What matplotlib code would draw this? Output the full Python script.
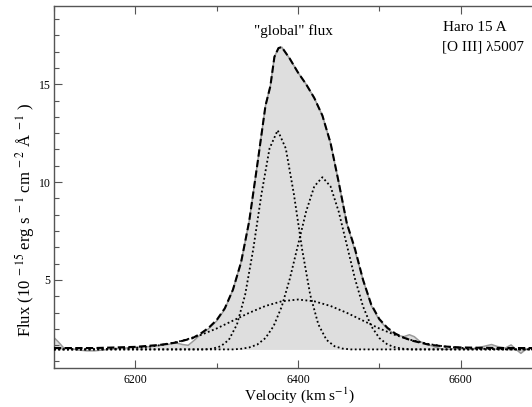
import matplotlib
matplotlib.use('Agg')
import matplotlib.pyplot as plt
from matplotlib.ticker import MultipleLocator, AutoMinorLocator

plt.rcParams['font.family'] = ['Liberation Serif', 'DejaVu Serif']
plt.rcParams['mathtext.fontset'] = 'stix'

# observed spectrum (grey line + filled area)
obs_v = [6100, 6105, 6112, 6120, 6130, 6140, 6150, 6160, 6170, 6180, 6200, 6220,
         6240, 6250, 6258, 6265, 6272, 6280, 6290, 6300, 6310, 6320, 6330, 6340,
         6350, 6360, 6366, 6371, 6376, 6380, 6390, 6400, 6410, 6420, 6430, 6440,
         6450, 6460, 6470, 6480, 6490, 6500, 6510, 6520, 6530, 6537, 6543, 6550,
         6560, 6570, 6580, 6590, 6600, 6610, 6620, 6630, 6638, 6645, 6655, 6662,
         6668, 6674, 6680, 6690, 6700]
obs_f = [2.05, 1.85, 1.52, 1.50, 1.42, 1.38, 1.38, 1.42, 1.47, 1.50, 1.55, 1.60,
         1.70, 1.78, 1.70, 1.66, 1.90, 2.20, 2.50, 2.90, 3.50, 4.50, 5.90, 8.00,
         10.9, 13.9, 14.9, 16.4, 16.85, 16.9, 16.3, 15.6, 15.0, 14.3, 13.4, 12.0,
         10.0, 7.9, 6.5, 5.0, 3.7, 2.95, 2.50, 2.20, 2.10, 2.20, 2.10, 1.85,
         1.70, 1.55, 1.45, 1.48, 1.50, 1.45, 1.52, 1.62, 1.70, 1.60, 1.52, 1.68,
         1.45, 1.25, 1.45, 1.55, 1.50]

# total fit (dashed)
tot_v = [6100, 6150, 6200, 6230, 6250, 6270, 6280, 6290, 6300, 6310, 6320, 6330,
         6340, 6350, 6360, 6366, 6371, 6376, 6380, 6390, 6400, 6410, 6420, 6430,
         6440, 6450, 6460, 6470, 6480, 6490, 6500, 6510, 6520, 6530, 6540, 6560,
         6580, 6600, 6650, 6700]
tot_f = [1.52, 1.52, 1.58, 1.68, 1.80, 2.02, 2.25, 2.55, 2.95, 3.55, 4.50, 5.90,
         8.00, 10.9, 13.9, 14.9, 16.4, 16.85, 16.9, 16.3, 15.6, 15.0, 14.3, 13.4,
         12.0, 10.0, 7.9, 6.6, 5.0, 3.75, 3.0, 2.55, 2.25, 2.05, 1.90, 1.70,
         1.60, 1.55, 1.52, 1.52]

# narrow blue-side component (dotted)
c1_v = [6100, 6285, 6295, 6305, 6315, 6325, 6335, 6345, 6355, 6365, 6375, 6385,
        6395, 6405, 6415, 6425, 6435, 6445, 6455, 6465, 6700]
c1_f = [1.45, 1.45, 1.49, 1.61, 1.94, 2.73, 4.24, 6.58, 9.37, 11.72, 12.65, 11.72,
        9.37, 6.58, 4.24, 2.73, 1.94, 1.61, 1.49, 1.45, 1.45]

# red-side component (dotted)
c2_v = [6100, 6320, 6330, 6340, 6350, 6360, 6370, 6380, 6390, 6400, 6410, 6420,
        6430, 6440, 6450, 6460, 6470, 6480, 6490, 6500, 6510, 6520, 6530, 6540, 6700]
c2_f = [1.45, 1.45, 1.48, 1.55, 1.70, 2.03, 2.64, 3.64, 5.07, 6.79, 8.50, 9.78,
        10.25, 9.78, 8.50, 6.79, 5.07, 3.64, 2.64, 2.03, 1.70, 1.55, 1.48, 1.45, 1.45]

# broad component (dotted)
c3_v = [6100, 6140, 6160, 6180, 6200, 6220, 6240, 6260, 6280, 6300, 6320, 6340,
        6360, 6380, 6400, 6420, 6440, 6460, 6480, 6500, 6520, 6540, 6560, 6580,
        6600, 6620, 6640, 6660, 6700]
c3_f = [1.45, 1.45, 1.47, 1.49, 1.53, 1.60, 1.73, 1.92, 2.18, 2.52, 2.92, 3.32,
        3.67, 3.91, 4.00, 3.91, 3.67, 3.32, 2.92, 2.52, 2.18, 1.92, 1.73, 1.60,
        1.53, 1.49, 1.47, 1.45, 1.45]

baseline = 1.45

fig = plt.figure(figsize=(5.32, 4.07), dpi=100)
ax = fig.add_axes([54/532, 1-368/407, (542-54)/532, (368-6)/407])

ax.fill_between(obs_v, obs_f, baseline, color='#dedede', lw=0, zorder=1)
ax.plot(obs_v, obs_f, color='#9a9a9a', lw=1.1, zorder=2)
for vv, ff in [(c1_v, c1_f), (c2_v, c2_f), (c3_v, c3_f)]:
    ax.plot(vv, ff, color='black', lw=1.3, ls=(0, (1, 1.4)), zorder=3)
ax.plot(tot_v, tot_f, color='black', lw=1.5, ls=(0, (3.5, 1.6)), zorder=4)

ax.set_xlim(6100, 6700)
ax.set_ylim(0.5, 19)
ax.xaxis.set_major_locator(MultipleLocator(200))
ax.xaxis.set_minor_locator(MultipleLocator(100))
ax.yaxis.set_major_locator(MultipleLocator(5))
ax.yaxis.set_minor_locator(AutoMinorLocator(6))
ax.tick_params(which='both', direction='in', top=True, right=False,
               labelsize=8.5, color='#555555', pad=4)
ax.tick_params(axis='y', which='both', pad=2.5)
ax.tick_params(which='major', length=6, width=0.8)
ax.tick_params(which='minor', length=3.5, width=0.8)
for s in ax.spines.values():
    s.set_color('#555555')
    s.set_linewidth(1.0)

fig.text(299/532, 1-395/407, r'Velocity (km s$^{-1}$)', ha='center', va='center',
         fontsize=11)
fig.text(25/532, 1-220/407,
         r'Flux (10$^{\ -15}$ erg s$^{\ -1}$ cm$^{\ -2}$ Å$^{\ -1}$ )',
         ha='center', va='center', rotation=90, fontsize=12)

ax.text(6395, 17.7, '"global" flux', ha='center', va='center', fontsize=11)
ax.text(6578, 17.9, 'Haro 15 A', ha='left', va='center', fontsize=11)
ax.text(6577, 16.9, '[O III] λ5007', ha='left', va='center', fontsize=11)

fig.savefig('out.png', dpi=100)
